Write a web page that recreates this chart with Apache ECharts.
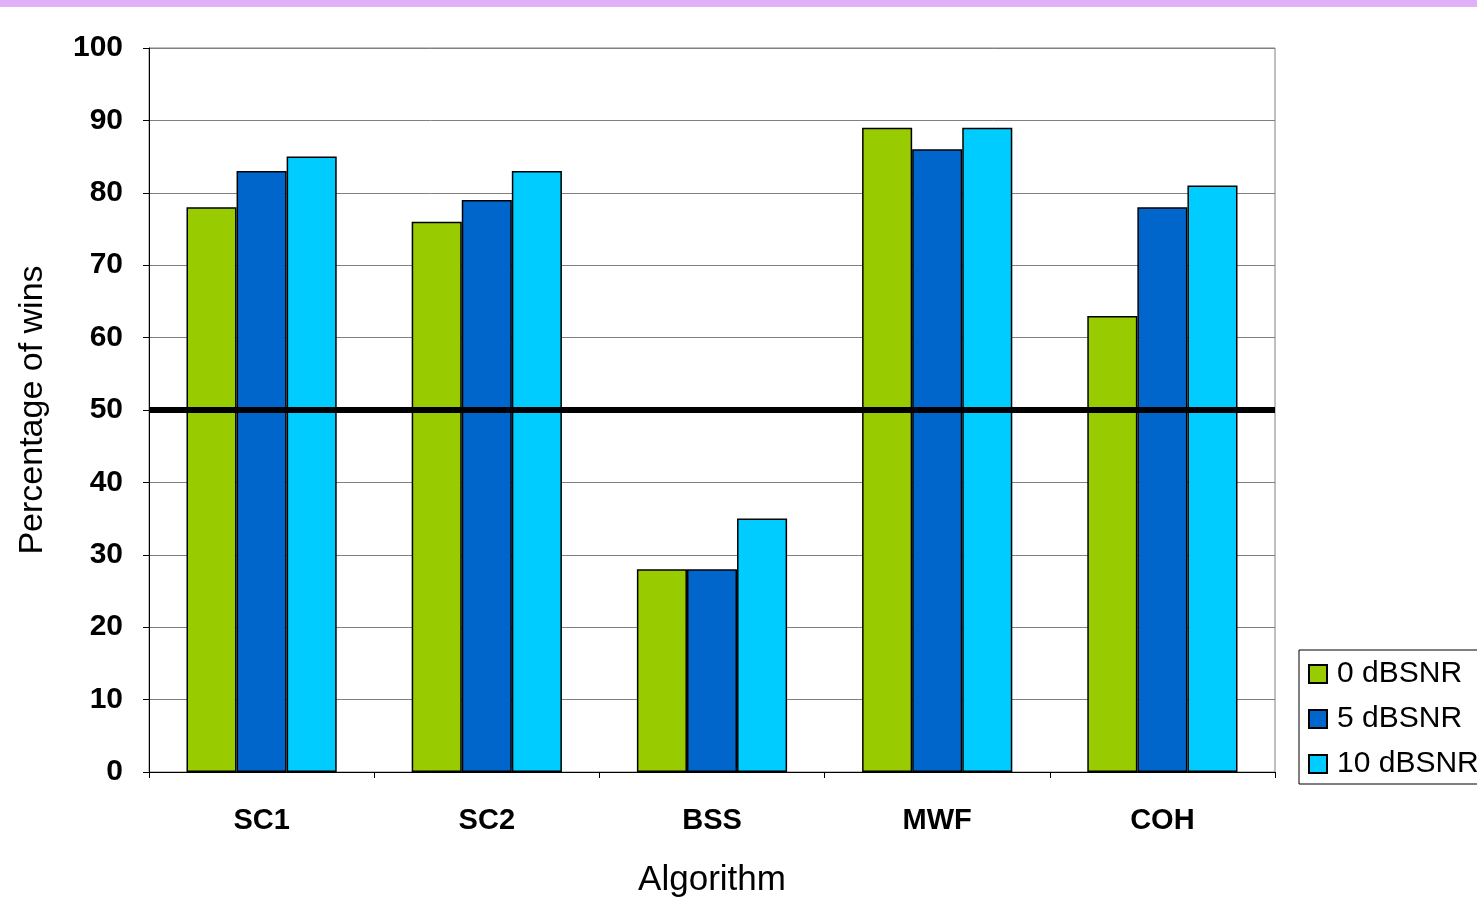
<!DOCTYPE html>
<html>
<head>
<meta charset="utf-8">
<script src="https://cdn.jsdelivr.net/npm/echarts@6/dist/echarts.min.js"></script>
<style>
  html, body { margin: 0; padding: 0; background: #ffffff; }
  #chart { width: 1477px; height: 900px; }
</style>
</head>
<body>
<div id="chart"></div>
<script>
// Algorithms compared
const categories = ['SC1', 'SC2', 'BSS', 'MWF', 'COH'];
// Percentage of wins at each SNR level
const snr0 = [78, 76, 28, 89, 63];
const snr5 = [83, 79, 28, 86, 78];
const snr10 = [85, 83, 35, 89, 81];
const seriesNames = ['0 dBSNR', '5 dBSNR', '10 dBSNR'];
const yTicks = [0, 10, 20, 30, 40, 50, 60, 70, 80, 90, 100];
const threshold = 50;

const colors = ['#99CC00', '#0066CC', '#00CCFF'];
const font = 'Liberation Sans, Arial, sans-serif';

const chart = echarts.init(document.getElementById('chart'), null, { renderer: 'canvas' });

function barSeries(name, data, color, withLine) {
  const s = {
    name: name,
    type: 'bar',
    data: data,
    barGap: '0%',
    barCategoryGap: '33.3%',
    itemStyle: { color: color, borderColor: '#000000', borderWidth: 1.5 },
    emphasis: { disabled: true }
  };
  if (withLine) {
    // 50% reference line across the plot
    s.markLine = {
      silent: true,
      symbol: 'none',
      label: { show: false },
      lineStyle: { color: '#000000', width: 6, type: 'solid' },
      data: [{ yAxis: threshold }],
      z: 10
    };
  }
  return s;
}

chart.setOption({
  animation: false,
  textStyle: { fontFamily: font },
  graphic: [{
    type: 'rect',
    left: 0, top: 0,
    shape: { width: 1477, height: 7 },
    style: { fill: '#E0B0F8' }
  }],
  grid: {
    left: 149, right: 202, top: 48, bottom: 128,
    containLabel: false,
    outerBoundsMode: 'none',
    show: true, borderColor: '#808080', borderWidth: 1
  },
  legend: {
    left: 1299, top: 650,
    orient: 'vertical',
    data: seriesNames,
    icon: 'rect',
    itemWidth: 18, itemHeight: 18,
    itemGap: 15,
    padding: [9, 60, 5, 9],
    borderColor: '#000000', borderWidth: 1,
    backgroundColor: '#ffffff',
    textStyle: { fontFamily: font, fontSize: 30, color: '#000000', padding: [0, 0, 0, 5] }
  },
  xAxis: {
    type: 'category',
    data: categories,
    name: 'Algorithm',
    nameLocation: 'middle',
    nameGap: 91,
    nameTextStyle: { fontFamily: font, fontSize: 35, color: '#000000' },
    axisLine: { lineStyle: { color: '#000000', width: 1 } },
    axisTick: { show: true, length: 6, lineStyle: { color: '#000000' } },
    axisLabel: { fontFamily: font, fontSize: 29, fontWeight: 'bold', color: '#000000', margin: 34 }
  },
  yAxis: {
    type: 'value',
    min: yTicks[0], max: yTicks[yTicks.length - 1], interval: 10,
    name: 'Percentage of wins',
    nameLocation: 'middle',
    nameGap: 99,
    nameTextStyle: { fontFamily: font, fontSize: 34, color: '#000000' },
    axisLine: { show: true, lineStyle: { color: '#000000', width: 1 } },
    axisTick: { show: true, length: 6, lineStyle: { color: '#000000' } },
    axisLabel: { fontFamily: font, fontSize: 30, fontWeight: 'bold', color: '#000000', margin: 26, padding: [5, 0, 0, 0] },
    splitLine: { show: true, lineStyle: { color: '#808080', width: 1 } }
  },
  series: [
    barSeries(seriesNames[0], snr0, colors[0], true),
    barSeries(seriesNames[1], snr5, colors[1], false),
    barSeries(seriesNames[2], snr10, colors[2], false)
  ]
});
</script>
</body>
</html>
